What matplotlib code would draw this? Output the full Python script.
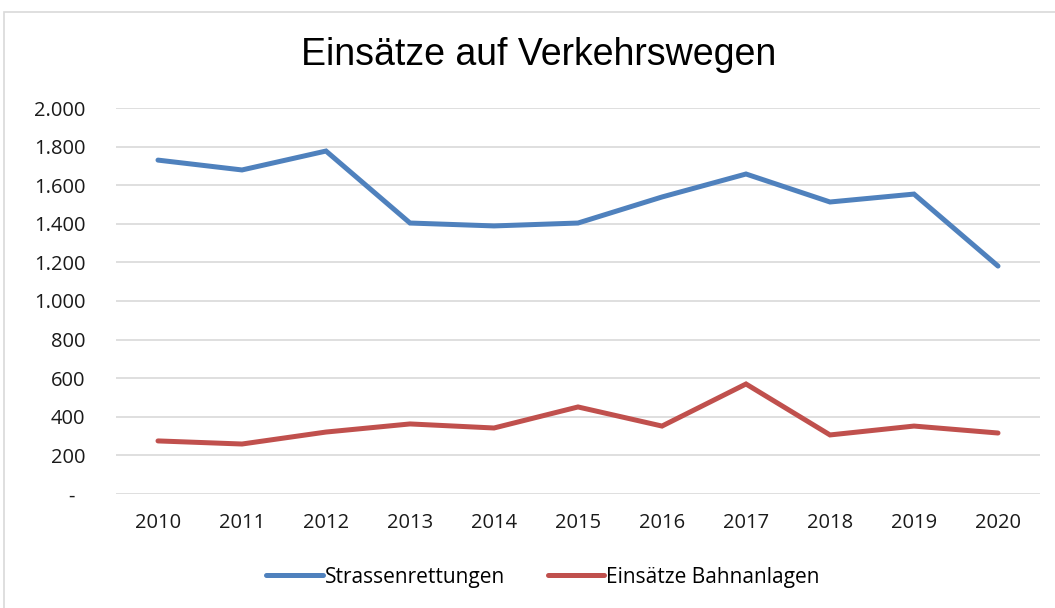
import matplotlib
matplotlib.use("Agg")
import matplotlib.pyplot as plt
from matplotlib.ticker import FuncFormatter
from matplotlib.patches import Rectangle

years = [2010, 2011, 2012, 2013, 2014, 2015, 2016, 2017, 2018, 2019, 2020]
strassen = [1730, 1679, 1777, 1404, 1389, 1404, 1539, 1658, 1513, 1554, 1181]
bahn = [275, 259, 321, 363, 342, 451, 352, 570, 306, 352, 316]
series_names = ["Strassenrettungen", "Einsätze Bahnanlagen"]
colors = ["#4F81BD", "#C0504D"]

W, H = 1055, 608
fig = plt.figure(figsize=(W / 100, H / 100), dpi=100)
fig.patch.set_facecolor("white")

# chart border
fig.patches.append(Rectangle((4 / W, -0.1), 1.2, 1 - 12 / H + 0.1, transform=fig.transFigure,
                             fill=False, edgecolor="#D9D9D9", linewidth=1.2))

ax = fig.add_axes([116 / W, 1 - 494 / H, (1040 - 116) / W, (494 - 108) / H])
x = list(range(len(years)))
for vals, name, c in zip([strassen, bahn], series_names, colors):
    ax.plot(x, vals, color=c, linewidth=3.6, label=name, solid_capstyle="round", solid_joinstyle="miter")

ax.set_xlim(-0.5, len(years) - 0.5)
ax.set_ylim(0, 2000)
ax.set_yticks(range(0, 2001, 200))
ax.set_xticks(x)
ax.set_xticklabels([str(y) for y in years])

def fmt(v, pos):
    v = int(round(v))
    if v == 0:
        return "-  "
    return f"{v:,}".replace(",", ".")
ax.yaxis.set_major_formatter(FuncFormatter(fmt))

font = "Open Sans"
for lab in ax.get_xticklabels() + ax.get_yticklabels():
    lab.set_fontfamily(font)
    lab.set_fontsize(14.5)
    lab.set_color("#1a1a1a")
ax.tick_params(axis="both", length=0)
ax.tick_params(axis="y", pad=22)
ax.tick_params(axis="x", pad=14)

ax.grid(axis="y", color="#D9D9D9", linewidth=1.2)
ax.set_axisbelow(True)
for s in ax.spines.values():
    s.set_visible(False)

fig.text(539 / W, 1 - 55 / H, "Einsätze auf Verkehrswegen", ha="center", va="center",
         fontsize=27, fontfamily="Liberation Sans", color="black")

leg = fig.legend(loc="center", bbox_to_anchor=(543 / W, 1 - 577 / H), ncol=2, frameon=False,
                 prop={"family": font, "size": 15}, handlelength=2.7, handletextpad=0.1,
                 columnspacing=2.05)

fig.savefig("out.png", dpi=100, facecolor="white")
